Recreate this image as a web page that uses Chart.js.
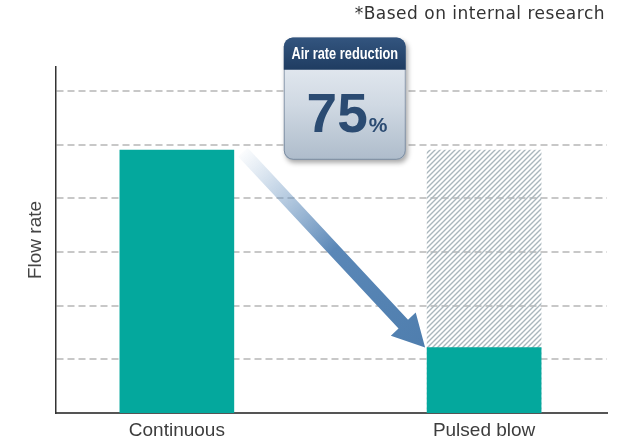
<!DOCTYPE html>
<html>
<head>
<meta charset="utf-8">
<script src="https://cdn.jsdelivr.net/npm/chart.js@4.4.1/dist/chart.umd.min.js"></script>
<style>
  html, body { margin: 0; padding: 0; background: #fff; }
  #wrap { width: 623px; height: 440px; position: relative; }
</style>
</head>
<body>
<div id="wrap"><canvas id="chart"></canvas></div>
<script>
// values (y in grid steps, no tick labels shown)
const categories = ["Continuous", "Pulsed blow"];
const categoryPos = [0, 1];
const flowRate = [4.9, 1.22];
const continuousLevel = [null, 4.9];   // hatched "before" bar
const gridTicks = [1, 2, 3, 4, 5, 6];
const yMax = 6.45;

const reductionLabel = "Air rate reduction";
const reductionValue = "75";
const footnote = "*Based on internal research";

// badge box in data units (x along the category axis, y along flow rate)
const badgeBox = { x0: 0.348, x1: 0.745, yTop: 7.0, yHead: 6.4, yBottom: 4.72 };

// diagonal hatch for the hatched bar
function makeHatch() {
    const size = 5;
    const c = document.createElement("canvas");
    c.width = size;
    c.height = size;
    const g = c.getContext("2d");
    g.strokeStyle = "#aab7bd";
    g.lineWidth = 1.4;
    g.beginPath();
    g.moveTo(0, size); g.lineTo(size, 0);
    g.moveTo(-1, 1); g.lineTo(1, -1);
    g.moveTo(size - 1, size + 1); g.lineTo(size + 1, size - 1);
    g.stroke();
    return g.createPattern(c, "repeat");
}

function drawArrow(ctx, x0, y0, x1, y1) {
    const ang = Math.atan2(y1 - y0, x1 - x0);
    const len = Math.hypot(x1 - x0, y1 - y0);
    const shaft = 6.5, head = 17, headLen = 32;
    ctx.save();
    ctx.translate(x0, y0);
    ctx.rotate(ang);
    const grad = ctx.createLinearGradient(0, 0, len, 0);
    grad.addColorStop(0, "rgba(120,160,200,0.03)");
    grad.addColorStop(0.5, "#5a87b7");
    grad.addColorStop(1, "#4f7eae");
    ctx.fillStyle = grad;
    ctx.beginPath();
    ctx.moveTo(0, -shaft);
    ctx.lineTo(len - headLen, -shaft);
    ctx.lineTo(len - headLen, -head);
    ctx.lineTo(len, 0);
    ctx.lineTo(len - headLen, head);
    ctx.lineTo(len - headLen, shaft);
    ctx.lineTo(0, shaft);
    ctx.closePath();
    ctx.fill();
    ctx.restore();
}

function drawBadge(ctx, xs, ys) {
    const x0 = xs.getPixelForValue(badgeBox.x0);
    const x1 = xs.getPixelForValue(badgeBox.x1);
    const y0 = ys.getPixelForValue(badgeBox.yTop);
    const yh = ys.getPixelForValue(badgeBox.yHead);
    const y1 = ys.getPixelForValue(badgeBox.yBottom);
    const w = x1 - x0, h = y1 - y0, r = 9;
    const cx = (x0 + x1) / 2;

    // body with drop shadow
    ctx.save();
    ctx.shadowColor = "rgba(0,0,0,0.35)";
    ctx.shadowBlur = 5;
    ctx.shadowOffsetX = 2;
    ctx.shadowOffsetY = 3;
    const body = ctx.createLinearGradient(0, y0, 0, y1);
    body.addColorStop(0, "#eef2f7");
    body.addColorStop(0.55, "#d0d9e3");
    body.addColorStop(1, "#aebccb");
    ctx.fillStyle = body;
    ctx.beginPath();
    ctx.roundRect(x0, y0, w, h, r);
    ctx.fill();
    ctx.restore();

    ctx.save();
    ctx.strokeStyle = "rgba(80,100,125,0.55)";
    ctx.lineWidth = 1;
    ctx.beginPath();
    ctx.roundRect(x0 + 0.5, y0 + 0.5, w - 1, h - 1, r);
    ctx.stroke();

    // header strip
    const headGrad = ctx.createLinearGradient(0, y0, 0, yh);
    headGrad.addColorStop(0, "#33557f");
    headGrad.addColorStop(1, "#1f3c61");
    ctx.fillStyle = headGrad;
    ctx.beginPath();
    ctx.roundRect(x0, y0, w, yh - y0, [r, r, 0, 0]);
    ctx.fill();

    // condensed white header text
    ctx.save();
    ctx.translate(cx, (y0 + yh) / 2 + 1);
    ctx.scale(0.8, 1);
    ctx.fillStyle = "#ffffff";
    ctx.font = 'bold 16px "Liberation Sans", Arial';
    ctx.textAlign = "center";
    ctx.textBaseline = "middle";
    ctx.fillText(reductionLabel, 0, 0);
    ctx.restore();

    // big number
    const base = y0 + 95;
    ctx.fillStyle = "#2b4b72";
    ctx.textBaseline = "alphabetic";
    ctx.textAlign = "right";
    ctx.font = 'bold 55px "Liberation Sans", Arial';
    ctx.fillText(reductionValue, cx + 23, base);
    ctx.textAlign = "left";
    ctx.font = 'bold 21px "Liberation Sans", Arial';
    ctx.fillText("%", cx + 24, base);
    ctx.restore();
}

const annotations = {
    id: "annotations",
    afterDatasetsDraw(chart) {
        const ctx = chart.ctx;
        const before = chart.getDatasetMeta(0).data[0];
        const after = chart.getDatasetMeta(0).data[1];
        drawArrow(ctx,
            before.x + before.width / 2 + 9, before.y + 2,
            after.x - after.width / 2 - 2, after.y);
        drawBadge(ctx, chart.scales.x, chart.scales.y);
    },
    afterDraw(chart) {
        const ctx = chart.ctx;
        ctx.save();
        ctx.font = '17px "DejaVu Sans", Verdana, sans-serif';
        ctx.letterSpacing = "0.5px";
        ctx.fillStyle = "#333333";
        ctx.textAlign = "right";
        ctx.textBaseline = "middle";
        ctx.fillText(footnote, chart.width - 18, 15);
        ctx.restore();
    }
};

const ctx = document.getElementById("chart").getContext("2d");

new Chart(ctx, {
    type: "bar",
    data: {
        datasets: [{
            label: "Flow rate",
            data: categoryPos.map((x, i) => ({ x: x, y: flowRate[i] })),
            backgroundColor: "#04a89d",
            barThickness: 114,
            grouped: false,
        }, {
            label: "Continuous level",
            data: categoryPos.map((x, i) => ({ x: x, y: continuousLevel[i] })),
            backgroundColor: makeHatch(),
            barThickness: 114,
            grouped: false,
        }]
    },
    options: {
        responsive: true,
        maintainAspectRatio: false,
        animation: false,
        layout: {
            padding: { top: 67, right: 16, bottom: -9, left: 20 }
        },
        scales: {
            x: {
                type: "linear",
                min: -0.394,
                max: 1.4,
                offset: false,
                z: 1,
                grid: { display: false, offset: false, drawTicks: false },
                border: { display: true, color: "#555555", width: 2 },
                afterBuildTicks: (scale) => {
                    scale.ticks = categoryPos.map(v => ({ value: v }));
                },
                ticks: {
                    padding: 8.5,
                    maxRotation: 0,
                    autoSkip: false,
                    color: "#3d3d3d",
                    font: { family: '"Liberation Sans", Arial', size: 19, lineHeight: 1 },
                    callback: (value, index) => categories[index],
                }
            },
            y: {
                min: 0,
                max: yMax,
                afterBuildTicks: (scale) => {
                    scale.ticks = gridTicks.map(v => ({ value: v }));
                },
                ticks: { display: false },
                grid: { color: "#c8c8c8", lineWidth: 2, drawTicks: false },
                border: { display: true, color: "#333333", width: 1.5, dash: [7, 4] },
                title: {
                    display: true,
                    text: "Flow rate",
                    color: "#444444",
                    padding: { top: 4, bottom: 9 },
                    font: { family: '"Liberation Sans", Arial', size: 19 },
                }
            }
        },
        plugins: {
            legend: { display: false },
            tooltip: { enabled: false }
        }
    },
    plugins: [annotations]
});
</script>
</body>
</html>
